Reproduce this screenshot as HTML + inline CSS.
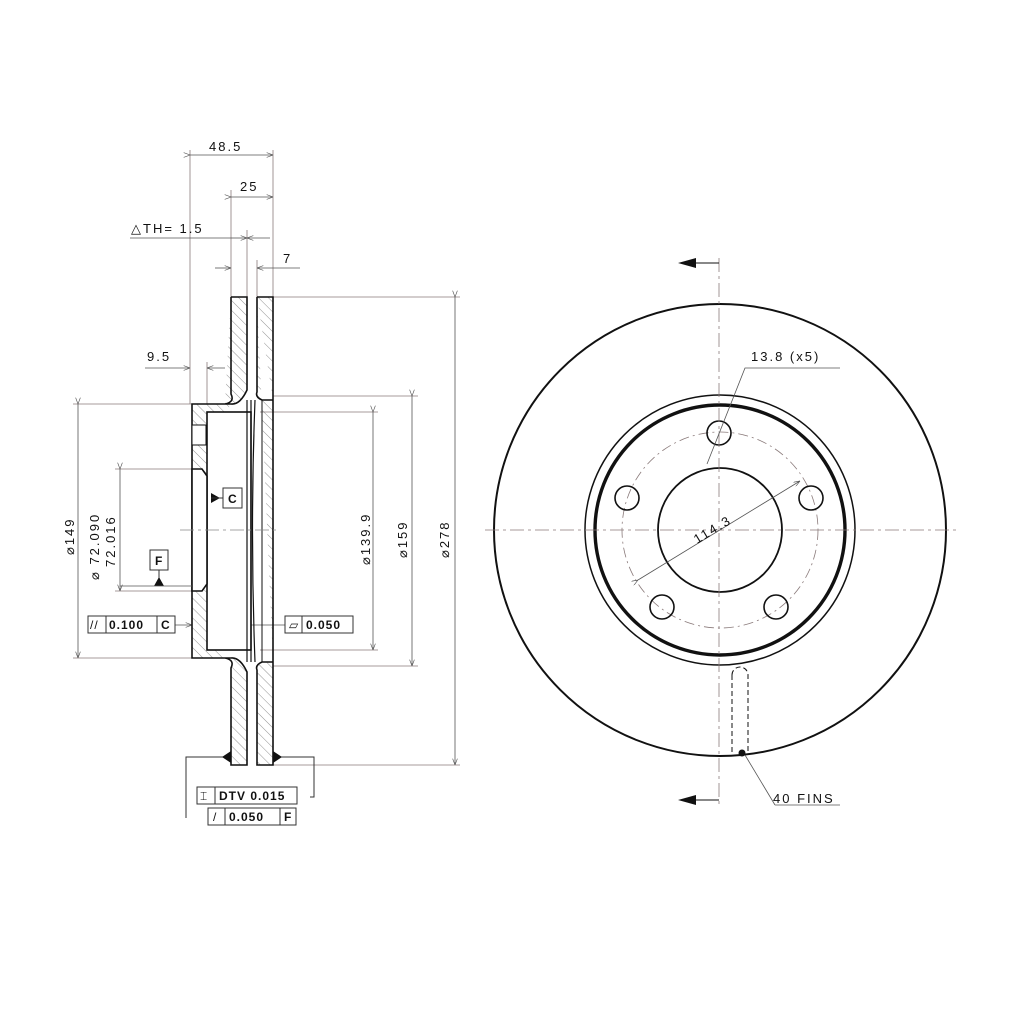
<!DOCTYPE html>
<html><head><style>body{margin:0;background:#fff}svg{display:block}text{font-family:"Liberation Sans",sans-serif;fill:#111}</style></head><body>
<svg width="1024" height="1024" viewBox="0 0 1024 1024" xmlns="http://www.w3.org/2000/svg">
<defs>
<pattern id="h" width="7" height="7" patternUnits="userSpaceOnUse" patternTransform="rotate(-45)"><line x1="0" y1="0" x2="0" y2="7" stroke="#777" stroke-width="0.8"/></pattern>
<marker id="a" markerWidth="8" markerHeight="6" refX="8" refY="3" orient="auto"><path d="M0,0 L8,3 L0,6" fill="none" stroke="#555" stroke-width="0.8"/></marker>
</defs>
<g fill="none" stroke="#8a7a7a" stroke-width="0.8">
<line x1="190" y1="150" x2="190" y2="404"/><line x1="273" y1="150" x2="273" y2="297"/>
<line x1="231" y1="190" x2="231" y2="297"/><line x1="247" y1="230" x2="247" y2="297"/><line x1="257" y1="260" x2="257" y2="297"/>
<line x1="207" y1="362" x2="207" y2="404"/>
<line x1="273" y1="297" x2="460" y2="297"/><line x1="273" y1="765" x2="460" y2="765"/>
<line x1="273" y1="396" x2="418" y2="396"/><line x1="273" y1="666" x2="418" y2="666"/>
<line x1="260" y1="412" x2="378" y2="412"/><line x1="260" y1="650" x2="378" y2="650"/>
<line x1="73" y1="404" x2="192" y2="404"/><line x1="73" y1="658" x2="192" y2="658"/>
<line x1="115" y1="469" x2="195" y2="469"/><line x1="115" y1="591" x2="195" y2="591"/>
</g>
<g stroke="#555" stroke-width="0.8" fill="none">
<line x1="190" y1="155" x2="273" y2="155" marker-start="url(#a)" marker-end="url(#a)"/>
<line x1="231" y1="197" x2="273" y2="197" marker-start="url(#a)" marker-end="url(#a)"/>
<line x1="130" y1="238" x2="231" y2="238"/><line x1="231" y1="238" x2="247" y2="238" marker-end="url(#a)"/><line x1="270" y1="238" x2="247" y2="238" marker-end="url(#a)"/>
<line x1="215" y1="268" x2="231" y2="268" marker-end="url(#a)"/><line x1="300" y1="268" x2="257" y2="268" marker-end="url(#a)"/>
<line x1="145" y1="368" x2="190" y2="368" marker-end="url(#a)"/><line x1="225" y1="368" x2="207" y2="368" marker-end="url(#a)"/>
<line x1="78" y1="404" x2="78" y2="658" marker-start="url(#a)" marker-end="url(#a)"/>
<line x1="120" y1="469" x2="120" y2="591" marker-start="url(#a)" marker-end="url(#a)"/>
<line x1="373" y1="412" x2="373" y2="650" marker-start="url(#a)" marker-end="url(#a)"/>
<line x1="412" y1="396" x2="412" y2="666" marker-start="url(#a)" marker-end="url(#a)"/>
<line x1="455" y1="297" x2="455" y2="765" marker-start="url(#a)" marker-end="url(#a)"/>
<line x1="175" y1="625" x2="192" y2="625" marker-end="url(#a)"/>
<line x1="285" y1="625" x2="211" y2="625" marker-end="url(#a)"/>
</g>
<g font-size="13" letter-spacing="2">
<text x="209" y="151">48.5</text>
<text x="240" y="191">25</text>
<text x="131" y="233">△TH= 1.5</text>
<text x="283" y="263">7</text>
<text x="147" y="361">9.5</text>
<text transform="translate(74,555) rotate(-90)">⌀149</text>
<text transform="translate(99,580) rotate(-90)">⌀ 72.090</text>
<text transform="translate(115,567) rotate(-90)">72.016</text>
<text transform="translate(370,565) rotate(-90)">⌀139.9</text>
<text transform="translate(407,558) rotate(-90)">⌀159</text>
<text transform="translate(449,558) rotate(-90)">⌀278</text>
</g>
<g stroke="#111" stroke-width="1.6">
<path d="M231,297 H247 V390 Q240,405 231,404 H192 V658 H231 Q240,657 247,672 V765 H231 V668 Q235,660 225,658 M231,297 V394 Q235,402 225,404" fill="url(#h)"/>
<path d="M257,297 H273 V765 H257 V670 Q255,665 262,662 H273 M257,297 V392 Q255,397 262,400 H273" fill="url(#h)"/>
<rect x="207" y="412" width="44" height="238" fill="#fff"/>
<path d="M192,469 H202 L207,476 V584 L202,591 H192 Z" fill="#fff"/>
<rect x="192" y="425" width="14" height="20" fill="#fff" stroke-width="1"/>
<path d="M247,400 V662 M251,400 V662 M255,400 Q250,530 255,662" fill="none" stroke-width="1.2"/>
<line x1="262" y1="400" x2="262" y2="662" stroke-width="1"/>
</g>
<line x1="180" y1="530" x2="280" y2="530" stroke="#888" stroke-width="0.8" stroke-dasharray="14,4,3,4"/>
<g stroke="#333" stroke-width="1" fill="#fff">
<rect x="223" y="488" width="19" height="20"/><rect x="150" y="550" width="18" height="20"/>
<rect x="88" y="616" width="87" height="17"/><line x1="106" y1="616" x2="106" y2="633"/><line x1="157" y1="616" x2="157" y2="633"/>
<rect x="285" y="616" width="68" height="17"/><line x1="302" y1="616" x2="302" y2="633"/>
<rect x="197" y="787" width="100" height="17"/><line x1="215" y1="787" x2="215" y2="804"/>
<rect x="208" y="808" width="88" height="17"/><line x1="225" y1="808" x2="225" y2="825"/><line x1="280" y1="808" x2="280" y2="825"/>
<polyline points="186,818 186,757 231,757" fill="none"/><polyline points="310,797 314,797 314,757 273,757" fill="none"/>
</g>
<path d="M211,493 L220,498 L211,503 Z M154,586 L159,577 L164,586 Z M222,757 L231,751 L231,763 Z M282,757 L273,751 L273,763 Z" fill="#111"/>
<line x1="211" y1="498" x2="223" y2="498" stroke="#333"/><line x1="159" y1="570" x2="159" y2="578" stroke="#333"/><line x1="120" y1="586" x2="192" y2="586" stroke="#555" stroke-width="0.8"/>
<g font-size="12" font-weight="bold" letter-spacing="1">
<text x="228" y="503">C</text><text x="155" y="565">F</text>
<text x="90" y="629" font-weight="normal">//</text><text x="109" y="629">0.100</text><text x="161" y="629">C</text>
<text x="289" y="629" font-weight="normal">▱</text><text x="306" y="629">0.050</text>
<text x="200" y="800" font-weight="normal">⌶</text><text x="219" y="800">DTV 0.015</text>
<text x="213" y="821" font-weight="normal">/</text><text x="229" y="821">0.050</text><text x="284" y="821">F</text>
</g>
<g fill="none" stroke="#111">
<circle cx="720" cy="530" r="226" stroke-width="2"/>
<circle cx="720" cy="530" r="135" stroke-width="1.5"/>
<circle cx="720" cy="530" r="125" stroke-width="3.4"/>
<circle cx="720" cy="530" r="62" stroke-width="1.8"/>
<circle cx="720" cy="530" r="98" stroke="#8a7a7a" stroke-width="0.8" stroke-dasharray="10,4,2,4"/>
<g stroke-width="1.6"><circle cx="719" cy="433" r="12"/><circle cx="627" cy="498" r="12"/><circle cx="811" cy="498" r="12"/><circle cx="662" cy="607" r="12"/><circle cx="776" cy="607" r="12"/></g>
<line x1="719" y1="258" x2="719" y2="805" stroke="#8a7a7a" stroke-width="0.8" stroke-dasharray="14,4,3,4"/>
<line x1="485" y1="530" x2="960" y2="530" stroke="#8a7a7a" stroke-width="0.8" stroke-dasharray="14,4,3,4"/>
<line x1="690" y1="263" x2="719" y2="263" stroke-width="1"/><line x1="690" y1="800" x2="719" y2="800" stroke-width="1"/>
<path d="M732,675 A8,8 0 0 1 748,675 V752 M732,675 V752" stroke-width="1" stroke-dasharray="5,3"/>
<line x1="745" y1="755" x2="775" y2="805" stroke="#555" stroke-width="0.8"/><line x1="775" y1="805" x2="840" y2="805" stroke="#555" stroke-width="0.8"/>
<polyline points="707,464 745,368 840,368" stroke="#555" stroke-width="0.8"/>
<line x1="638" y1="580" x2="800" y2="481" stroke="#555" stroke-width="0.8" marker-start="url(#a)" marker-end="url(#a)"/>
</g>
<path d="M678,263 L696,258 L696,268 Z M678,800 L696,795 L696,805 Z" fill="#111"/>
<circle cx="742" cy="753" r="3.5" fill="#111"/>
<g font-size="13" letter-spacing="2">
<text x="751" y="361">13.8 (x5)</text>
<text x="773" y="803">40 FINS</text>
<text transform="translate(697,544) rotate(-31)">114.3</text>
</g>
</svg>
</body></html>
